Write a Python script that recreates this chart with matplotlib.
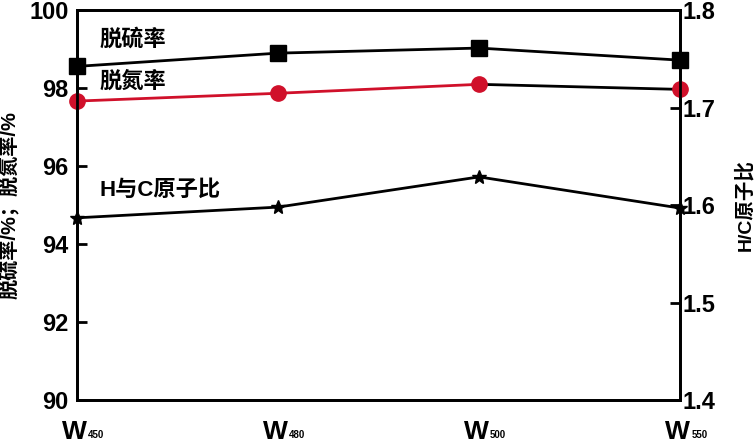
import matplotlib.pyplot as plt
import numpy as np

plt.rcParams['font.family'] = ['Liberation Sans', 'Noto Sans CJK SC', 'DejaVu Sans']
plt.rcParams['font.weight'] = 'bold'

samples = ['450', '480', '500', '550']
desulf = [98.56, 98.90, 99.03, 98.72]
denitro = [97.67, 97.87, 98.10, 97.97]
hc_ratio = [1.587, 1.598, 1.629, 1.597]

x = np.arange(len(samples))

fig = plt.figure(figsize=(7.54, 4.46), dpi=100)
ax = fig.add_axes([0.102, 0.103, 0.800, 0.874])
ax2 = ax.twinx()

ax.plot(x, desulf, color='black', lw=2, marker='s', ms=11, clip_on=False, zorder=5)
ax.plot(x[:3], denitro[:3], color='#d0102a', lw=2, marker='o', ms=11, clip_on=False, zorder=5)
ax.plot(x[2:], denitro[2:], color='black', lw=2, zorder=4, clip_on=False)
ax.plot(x[3], denitro[3], color='#d0102a', marker='o', ms=11, ls='none', clip_on=False, zorder=6)
ax2.plot(x, hc_ratio, color='black', lw=2, marker='*', ms=10, clip_on=False)

ax.set_xlim(0, 3)
ax.set_ylim(90, 100)
ax2.set_ylim(1.4, 1.8)
ax.set_yticks([90, 92, 94, 96, 98, 100])
ax2.set_yticks([1.4, 1.5, 1.6, 1.7, 1.8])
ax2.set_yticklabels(['1.4', '1.5', '1.6', '1.7', '1.8'])
ax.set_xticks(x)
ax.set_xticklabels([])

# x labels: big W with small subscript
for xi, s in zip(x, samples):
    ax.annotate('W', (xi, 90), xytext=(-2, -14), textcoords='offset points',
                ha='center', va='top', fontsize=19, fontweight='bold',
                annotation_clip=False)
    ax.annotate(s, (xi, 90), xytext=(8, -29), textcoords='offset points',
                ha='left', va='bottom', fontsize=7, fontweight='bold',
                annotation_clip=False)

ax.tick_params(axis='y', direction='in', length=7, width=2, labelsize=17, pad=6)
ax2.tick_params(axis='y', direction='in', length=7, width=2, labelsize=17, pad=2)
ax.tick_params(axis='x', length=0)
for a in (ax, ax2):
    for sp in a.spines.values():
        sp.set_linewidth(2)

ax.set_ylabel('脱硫率/%；脱氮率/%', fontsize=14.5, fontweight='bold')
ax.yaxis.set_label_coords(-0.095, 0.5)
ax2.set_ylabel('H/C原子比', fontsize=14, fontweight='bold')
ax2.yaxis.set_label_coords(1.09, 0.5)

ax.text(0.114, 99.23, '脱硫率', fontsize=16, fontweight='bold', va='center')
ax.text(0.114, 98.15, '脱氮率', fontsize=16, fontweight='bold', va='center')
ax.text(0.114, 95.38, 'H与C原子比', fontsize=16, fontweight='bold', va='center')

fig.savefig('out.png', dpi=100)
